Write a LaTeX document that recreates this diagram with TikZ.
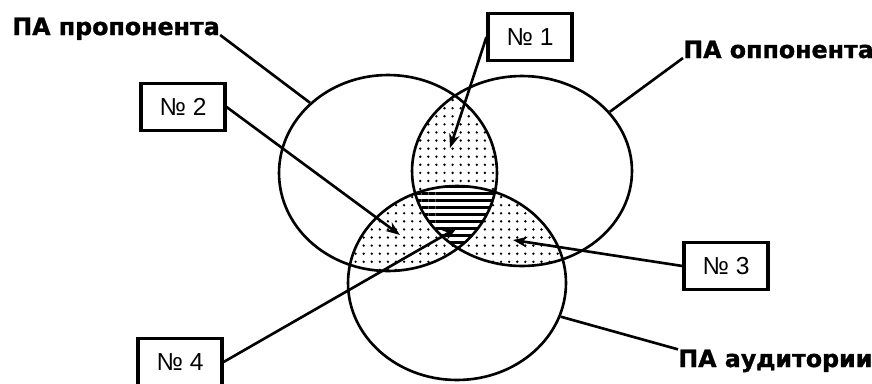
\documentclass[tikz,border=0pt]{standalone}
\usepackage{fontspec}
\setmainfont{Liberation Sans}
\newfontfamily\labelfont[FakeBold=1.2]{DejaVu Sans Bold}
\usetikzlibrary{positioning, calc, shapes.geometric, arrows.meta, backgrounds, patterns}

\pgfdeclarepatternformonly{sparsedots}{\pgfqpoint{-1pt}{-1pt}}{\pgfqpoint{1pt}{1pt}}{\pgfqpoint{4.6pt}{4.6pt}}%
  {\pgfpathcircle{\pgfqpoint{0pt}{0pt}}{0.75pt}\pgfusepath{fill}}
\pgfdeclarepatternformonly{hstripes}{\pgfqpoint{0pt}{-1pt}}{\pgfqpoint{4pt}{1pt}}{\pgfqpoint{4pt}{4pt}}%
  {\pgfsetlinewidth{1.6pt}\pgfpathmoveto{\pgfqpoint{0pt}{0pt}}\pgfpathlineto{\pgfqpoint{4pt}{0pt}}\pgfusepath{stroke}}

\begin{document}
\begin{tikzpicture}[
        x=0.02cm, y=-0.02cm,
        setcirc/.style={ellipse, draw=black, line width=1.5pt, inner sep=0pt},
        numbox/.style={rectangle, draw=black, line width=1.8pt, fill=white,
                       minimum width=1.68cm, minimum height=0.94cm, inner sep=0pt,
                       font=\fontsize{14}{16}\selectfont},
        palabel/.style={inner sep=0pt, font=\labelfont\fontsize{13.5}{15}\selectfont},
        leader/.style={-, line width=1.5pt},
        pointer/.style={-{Stealth[length=8pt, width=6pt]}, line width=1.5pt},
    ]
    \useasboundingbox (0,0) rectangle (872,383);

    % ===== Three sets =====
    \node[setcirc, minimum width=4.36cm, minimum height=3.92cm] (P) at (388,173) {};
    \node[setcirc, minimum width=4.40cm, minimum height=3.80cm] (O) at (522,171) {};
    \node[setcirc, minimum width=4.36cm, minimum height=3.88cm] (A) at (457,283) {};

    % ===== Shaded overlaps =====
    \begin{scope}[on background layer]
        % pairwise overlaps: dotted
        \begin{scope}
            \clip (P.center) ellipse [x radius=2.18cm, y radius=1.96cm];
            \fill[pattern=sparsedots] (O.center) ellipse [x radius=2.20cm, y radius=1.90cm];
            \fill[pattern=sparsedots] (A.center) ellipse [x radius=2.18cm, y radius=1.94cm];
        \end{scope}
        \begin{scope}
            \clip (O.center) ellipse [x radius=2.20cm, y radius=1.90cm];
            \fill[pattern=sparsedots] (A.center) ellipse [x radius=2.18cm, y radius=1.94cm];
        \end{scope}
        % common part: stripes
        \begin{scope}
            \clip (P.center) ellipse [x radius=2.18cm, y radius=1.96cm];
            \clip (O.center) ellipse [x radius=2.20cm, y radius=1.90cm];
            \fill[white] (A.center) ellipse [x radius=2.18cm, y radius=1.94cm];
            \fill[pattern=hstripes] (A.center) ellipse [x radius=2.18cm, y radius=1.94cm];
        \end{scope}
    \end{scope}

    % ===== Set labels =====
    \node[palabel, anchor=base west] (LP) at (12,35)  {ПА пропонента};
    \node[palabel, anchor=base west] (LO) at (683,58) {ПА оппонента};
    \node[palabel, anchor=base west] (LA) at (678,367) {ПА аудитории};

    \draw[leader] (LP.base east) -- (P.138);
    \draw[leader] (LO.base west) -- (O.34);
    \draw[leader] (LA.north west) -- (A.342);

    % ===== Numbered boxes =====
    \node[numbox] (N1) at (530,37)  {№ 1};
    \node[numbox] (N2) at (183,107) {№ 2};
    \node[numbox] (N3) at (726,266) {№ 3};
    \node[numbox] (N4) at (180,362) {№ 4};

    \coordinate (T1) at (450,148);
    \coordinate (T2) at (400,235);
    \coordinate (T3) at (513,240);
    \coordinate (T4) at (457,228);

    \draw[pointer] (N1.west) -- (T1);
    \draw[pointer] (N2.east) -- (T2);
    \draw[pointer] (N3.west) -- (T3);
    \draw[pointer] (N4.east) -- (T4);

\end{tikzpicture}
\end{document}
